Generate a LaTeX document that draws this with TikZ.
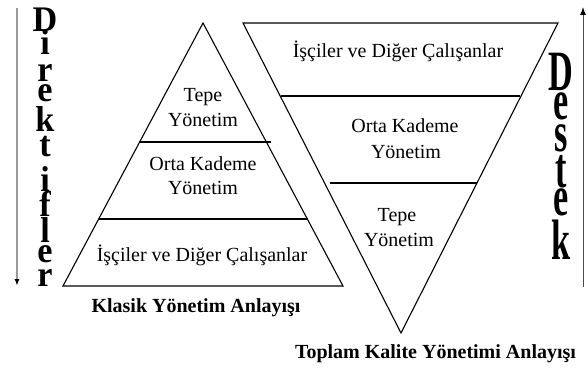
\documentclass[tikz,border=0pt]{standalone}
\usepackage{fontspec}
\setmainfont{Liberation Serif}
\usetikzlibrary{arrows.meta}
\newcommand\stackletter[3]{\baselineskip=#1pt\hbox to #2pt{\hss#3\hss}}
\begin{document}
\begin{tikzpicture}[x=1pt,y=-1pt,
 tri/.style={line width=1.1pt, line join=miter},
 divider/.style={line width=1.8pt},
 lbl/.style={inner sep=0pt, anchor=base, font=\fontsize{20}{24}\selectfont},
 ttl/.style={inner sep=0pt, anchor=base, font=\fontsize{20}{24}\selectfont\bfseries},
 dword/.style={inner sep=0pt, anchor=base, font=\fontsize{36}{36}\selectfont\bfseries, xscale=0.95},
 sword/.style={inner sep=0pt, anchor=base, font=\fontsize{57}{57}\selectfont\bfseries, xscale=0.6},
]
\useasboundingbox (0,0) rectangle (587,369);

% Left pyramid
\coordinate (la) at (203,23);
\coordinate (lb) at (63,286);
\coordinate (lc) at (343,286);
\draw[tri] (la) -- (lb) -- (lc) -- cycle;
\coordinate (l1a) at (139,142); \coordinate (l1b) at (271,142);
\coordinate (l2a) at (99,219);  \coordinate (l2b) at (308,219);
\draw[divider] (l1a) -- (l1b);
\draw[divider] (l2a) -- (l2b);

\node[lbl] (lt1) at (203,102) {Tepe};
\node[lbl] (lt2) at (203,127) {Yönetim};
\node[lbl] (lo1) at (203,170) {Orta Kademe};
\node[lbl] (lo2) at (203,194) {Yönetim};
\node[lbl] (li1) at (202,261) {İşçiler ve Diğer Çalışanlar};
\node[ttl] (ltitle) at (196,312) {Klasik Yönetim Anlayışı};

% Right inverted pyramid
\coordinate (ra) at (243,23);
\coordinate (rb) at (558,23);
\coordinate (rc) at (401,333);
\draw[tri] (ra) -- (rb) -- (rc) -- cycle;
\coordinate (r1a) at (281,96); \coordinate (r1b) at (520,96);
\coordinate (r2a) at (330,183); \coordinate (r2b) at (477,183);
\draw[divider] (r1a) -- (r1b);
\draw[divider] (r2a) -- (r2b);

\node[lbl] (ri1) at (398,58) {İşçiler ve Diğer Çalışanlar};
\node[lbl] (ro1) at (405,132) {Orta Kademe};
\node[lbl] (ro2) at (406,158) {Yönetim};
\node[lbl] (rt1) at (397,221) {Tepe};
\node[lbl] (rt2) at (399,246) {Yönetim};
\node[ttl] (rtitle) at (435.5,358) {Toplam Kalite Yönetimi Anlayışı};

% Direktifler (one stacked word)
\node[dword] (dirword) at (45,32) {\vtop{\lineskiplimit=-1000pt
  \stackletter{0}{30}{D}\stackletter{23}{30}{i}\stackletter{27}{30}{r}\stackletter{20}{30}{e}%
  \stackletter{30}{30}{k}\stackletter{25}{30}{t}\stackletter{35}{30}{i}\stackletter{25}{30}{f}%
  \stackletter{26}{30}{l}\stackletter{20}{30}{e}\stackletter{24}{30}{r}}};
\coordinate (dtop) at (17,8);
\coordinate (dbot) at (17,286);
\draw[line width=1.6pt, draw=black!40, -{Latex[length=7pt,width=5pt,color=black]}] (dtop) -- (dbot);

% Destek (one stacked word)
\node[sword] (desword) at (561,91) {\vtop{\lineskiplimit=-1000pt
  \stackletter{0}{40}{D}\stackletter{29}{40}{e}\stackletter{32}{40}{s}%
  \stackletter{36}{40}{t}\stackletter{28}{40}{e}\stackletter{44}{40}{k}}};
\coordinate (sbot) at (583,287);
\coordinate (stop) at (583,7);
\draw[line width=1pt, draw=black!70, -{Latex[length=8pt,width=6pt,color=black]}] (sbot) -- (stop);
\end{tikzpicture}
\end{document}
